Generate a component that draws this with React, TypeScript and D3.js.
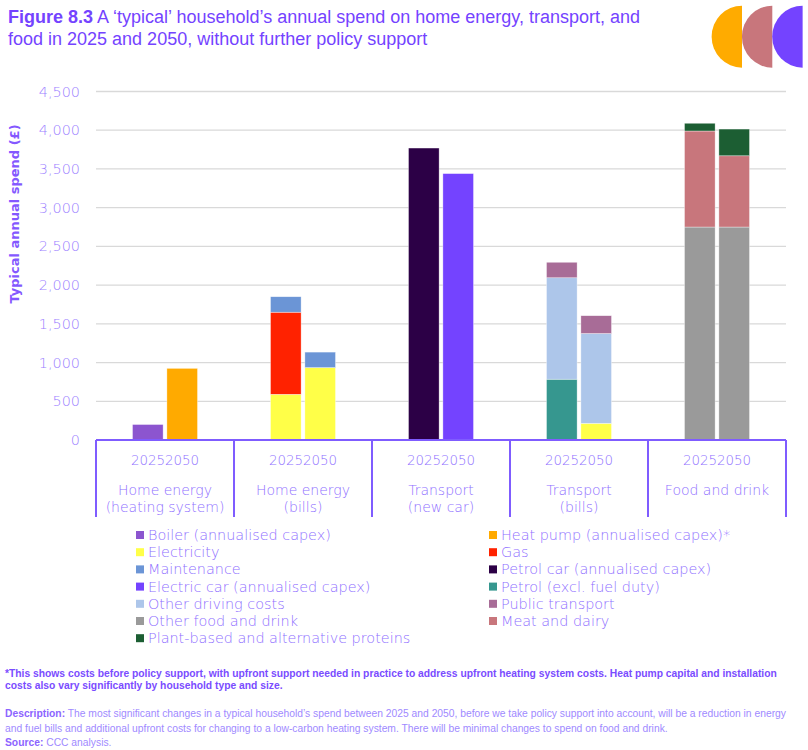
import React from "react";
import * as d3 from "d3";

const categories = [
  ["Home energy", "(heating system)"],
  ["Home energy", "(bills)"],
  ["Transport", "(new car)"],
  ["Transport", "(bills)"],
  ["Food and drink"],
];
const years = ["2025", "2050"];

// one value per bar: [cat0-2025, cat0-2050, cat1-2025, ...]
const boiler = [200, 0, 0, 0, 0, 0, 0, 0, 0, 0];
const heatPump = [0, 925, 0, 0, 0, 0, 0, 0, 0, 0];
const electricity = [0, 0, 590, 935, 0, 0, 0, 215, 0, 0];
const gas = [0, 0, 1060, 0, 0, 0, 0, 0, 0, 0];
const maintenance = [0, 0, 200, 200, 0, 0, 0, 0, 0, 0];
const petrolCar = [0, 0, 0, 0, 3770, 0, 0, 0, 0, 0];
const electricCar = [0, 0, 0, 0, 0, 3440, 0, 0, 0, 0];
const petrol = [0, 0, 0, 0, 0, 0, 785, 0, 0, 0];
const otherDriving = [0, 0, 0, 0, 0, 0, 1310, 1160, 0, 0];
const publicTransport = [0, 0, 0, 0, 0, 0, 200, 230, 0, 0];
const otherFood = [0, 0, 0, 0, 0, 0, 0, 0, 2750, 2750];
const meatDairy = [0, 0, 0, 0, 0, 0, 0, 0, 1240, 920];
const plantBased = [0, 0, 0, 0, 0, 0, 0, 0, 100, 345];

const yTicks = [0, 500, 1000, 1500, 2000, 2500, 3000, 3500, 4000, 4500];

const series = [
  { key: "boiler", label: "Boiler (annualised capex)", color: "#8c55cf", values: boiler },
  { key: "heatPump", label: "Heat pump (annualised capex)*", color: "#ffaa00", values: heatPump },
  { key: "electricity", label: "Electricity", color: "#ffff48", values: electricity },
  { key: "gas", label: "Gas", color: "#ff2200", values: gas },
  { key: "maintenance", label: "Maintenance", color: "#6b95d6", values: maintenance },
  { key: "petrolCar", label: "Petrol car (annualised capex)", color: "#2c0046", values: petrolCar },
  { key: "electricCar", label: "Electric car (annualised capex)", color: "#7443ff", values: electricCar },
  { key: "petrol", label: "Petrol (excl. fuel duty)", color: "#36978f", values: petrol },
  { key: "otherDriving", label: "Other driving costs", color: "#adc6ea", values: otherDriving },
  { key: "publicTransport", label: "Public transport", color: "#a86c97", values: publicTransport },
  { key: "otherFood", label: "Other food and drink", color: "#9a9a9a", values: otherFood },
  { key: "meatDairy", label: "Meat and dairy", color: "#c8767c", values: meatDairy },
  { key: "plantBased", label: "Plant-based and alternative proteins", color: "#1c5e33", values: plantBased },
];

const LIGHT = "#8f70ff";
const TITLE = "#7443ff";
const GOTHIC = "'DejaVu Sans', sans-serif";
const ARIAL = "'Liberation Sans', Arial, sans-serif";

export default function App() {
  const width = 808;
  const height = 750;
  const left = 96;
  const right = 786;
  const top = 91.5;
  const bottom = 440;

  const x = d3
    .scaleBand<number>()
    .domain(categories.map((_, i) => i))
    .range([left, right])
    .padding(0);

  const y = d3.scaleLinear().domain([0, 4500]).range([bottom, top]);

  const rows = d3.range(categories.length * years.length).map((i) => {
    const r: any = { idx: i };
    series.forEach((s) => (r[s.key] = s.values[i]));
    return r;
  });
  const stacked = d3.stack<any>().keys(series.map((s) => s.key))(rows);

  const barX = (i: number) => {
    const c = Math.floor(i / 2);
    const center = (x(c) as number) + x.bandwidth() / 2;
    const inner = d3
      .scaleBand<string>()
      .domain(years)
      .range([center - 32.5, center + 32.5])
      .paddingInner(0.11);
    return { x: inner(years[i % 2]) as number, w: inner.bandwidth() };
  };

  const boundaries = d3.range(categories.length + 1).map((i) =>
    i < categories.length ? (x(i) as number) : right
  );

  return (
    <svg width={width} height={height} style={{ position: "absolute", left: 0, top: 0 }}>
      <rect width={width} height={height} fill="#fff" />
      {/* title */}
      <text x={8} y={23} fontFamily={ARIAL} fontSize={18} fill={TITLE}>
        <tspan fontWeight="bold">Figure 8.3</tspan>
        <tspan> A ‘typical’ household’s annual spend on home energy, transport, and</tspan>
      </text>
      <text x={8} y={45} fontFamily={ARIAL} fontSize={18} fill={TITLE}>
        food in 2025 and 2050, without further policy support
      </text>
      {/* logo */}
      {["#ffab00", "#c8767c", "#7443ff"].map((c, i) => {
        const cx = 742 + i * 30.3;
        const cy = 36.7;
        const r = 31;
        return <path key={c} d={`M${cx},${cy - r} A${r * 0.98},${r} 0 0 0 ${cx},${cy + r} Z`} fill={c} />;
      })}

      {/* gridlines */}
      {yTicks.slice(1).map((t) => (
        <line key={t} x1={left} x2={right} y1={y(t)} y2={y(t)} stroke="#d9d9d9" strokeWidth={1.3} />
      ))}
      {yTicks.map((t) => (
        <text key={t} x={80} y={y(t)} dy="0.35em" textAnchor="end" fontFamily={GOTHIC} fontWeight={200} fontSize={14.4} fill="#9c82ff">
          {d3.format(",")(t)}
        </text>
      ))}
      <text
        transform={`translate(19,214) rotate(-90)`}
        textAnchor="middle"
        fontFamily={GOTHIC}
        fontWeight="bold"
        fontSize={13}
        fill="#8458ff"
      >
        Typical annual spend (£)
      </text>

      {/* bars */}
      {stacked.map((layer, si) =>
        layer.map((d, i) => {
          const h = y(d[0]) - y(d[1]);
          if (h <= 0) return null;
          const b = barX(i);
          return (
            <rect
              key={`${si}-${i}`}
              x={b.x}
              y={y(d[1])}
              width={b.w}
              height={h}
              fill={series[si].color}
              stroke="#ffffff"
              strokeOpacity={0.6}
              strokeWidth={0.6}
            />
          );
        })
      )}

      {/* category axis */}
      <line x1={left} x2={right} y1={bottom} y2={bottom} stroke="#7f5cff" strokeWidth={2} />
      {boundaries.map((bx, i) => (
        <line key={i} x1={bx} x2={bx} y1={bottom} y2={517} stroke="#7f5cff" strokeWidth={2} />
      ))}
      {categories.map((lines, c) => {
        const cx = (x(c) as number) + x.bandwidth() / 2;
        return (
          <g key={c} fontFamily={GOTHIC} fontWeight={200} fill={LIGHT}>
            <text x={cx} y={465} textAnchor="end" fontSize={13.4}>{years[0]}</text>
            <text x={cx} y={465} textAnchor="start" fontSize={13.4}>{years[1]}</text>
            {lines.map((l, li) => (
              <text key={li} x={cx} y={495 + li * 17} textAnchor="middle" fontSize={14}>
                {l}
              </text>
            ))}
          </g>
        );
      })}

      {/* legend */}
      {series.map((s, i) => {
        const col = i % 2;
        const row = Math.floor(i / 2);
        const lx = col === 0 ? 136 : 489;
        const ly = 535 + row * 17.2;
        return (
          <g key={s.key}>
            <rect x={lx} y={ly - 4} width={8} height={8} fill={s.color} />
            <text x={lx + 12} y={ly} dy="0.35em" fontFamily={GOTHIC} fontWeight={200} fontSize={14.4} fill={LIGHT}>
              {s.label}
            </text>
          </g>
        );
      })}

      {/* notes */}
      <g fontFamily={ARIAL} fontSize={10.3}>
        <text x={5} y={677} fontWeight="bold" fill="#7a4cff">
          *This shows costs before policy support, with upfront support needed in practice to address upfront heating system costs. Heat pump capital and installation
        </text>
        <text x={5} y={689} fontWeight="bold" fill="#7a4cff">
          costs also vary significantly by household type and size.
        </text>
        <text x={5} y={717} fill="#a08aff">
          <tspan fontWeight="bold" fill="#8c64ff">Description:</tspan>
          <tspan> The most significant changes in a typical household’s spend between 2025 and 2050, before we take policy support into account, will be a reduction in energy</tspan>
        </text>
        <text x={5} y={732} fill="#a08aff">
          and fuel bills and additional upfront costs for changing to a low-carbon heating system. There will be minimal changes to spend on food and drink.
        </text>
        <text x={5} y={746} fill="#a08aff">
          <tspan fontWeight="bold" fill="#8c64ff">Source:</tspan>
          <tspan> CCC analysis.</tspan>
        </text>
      </g>
    </svg>
  );
}
